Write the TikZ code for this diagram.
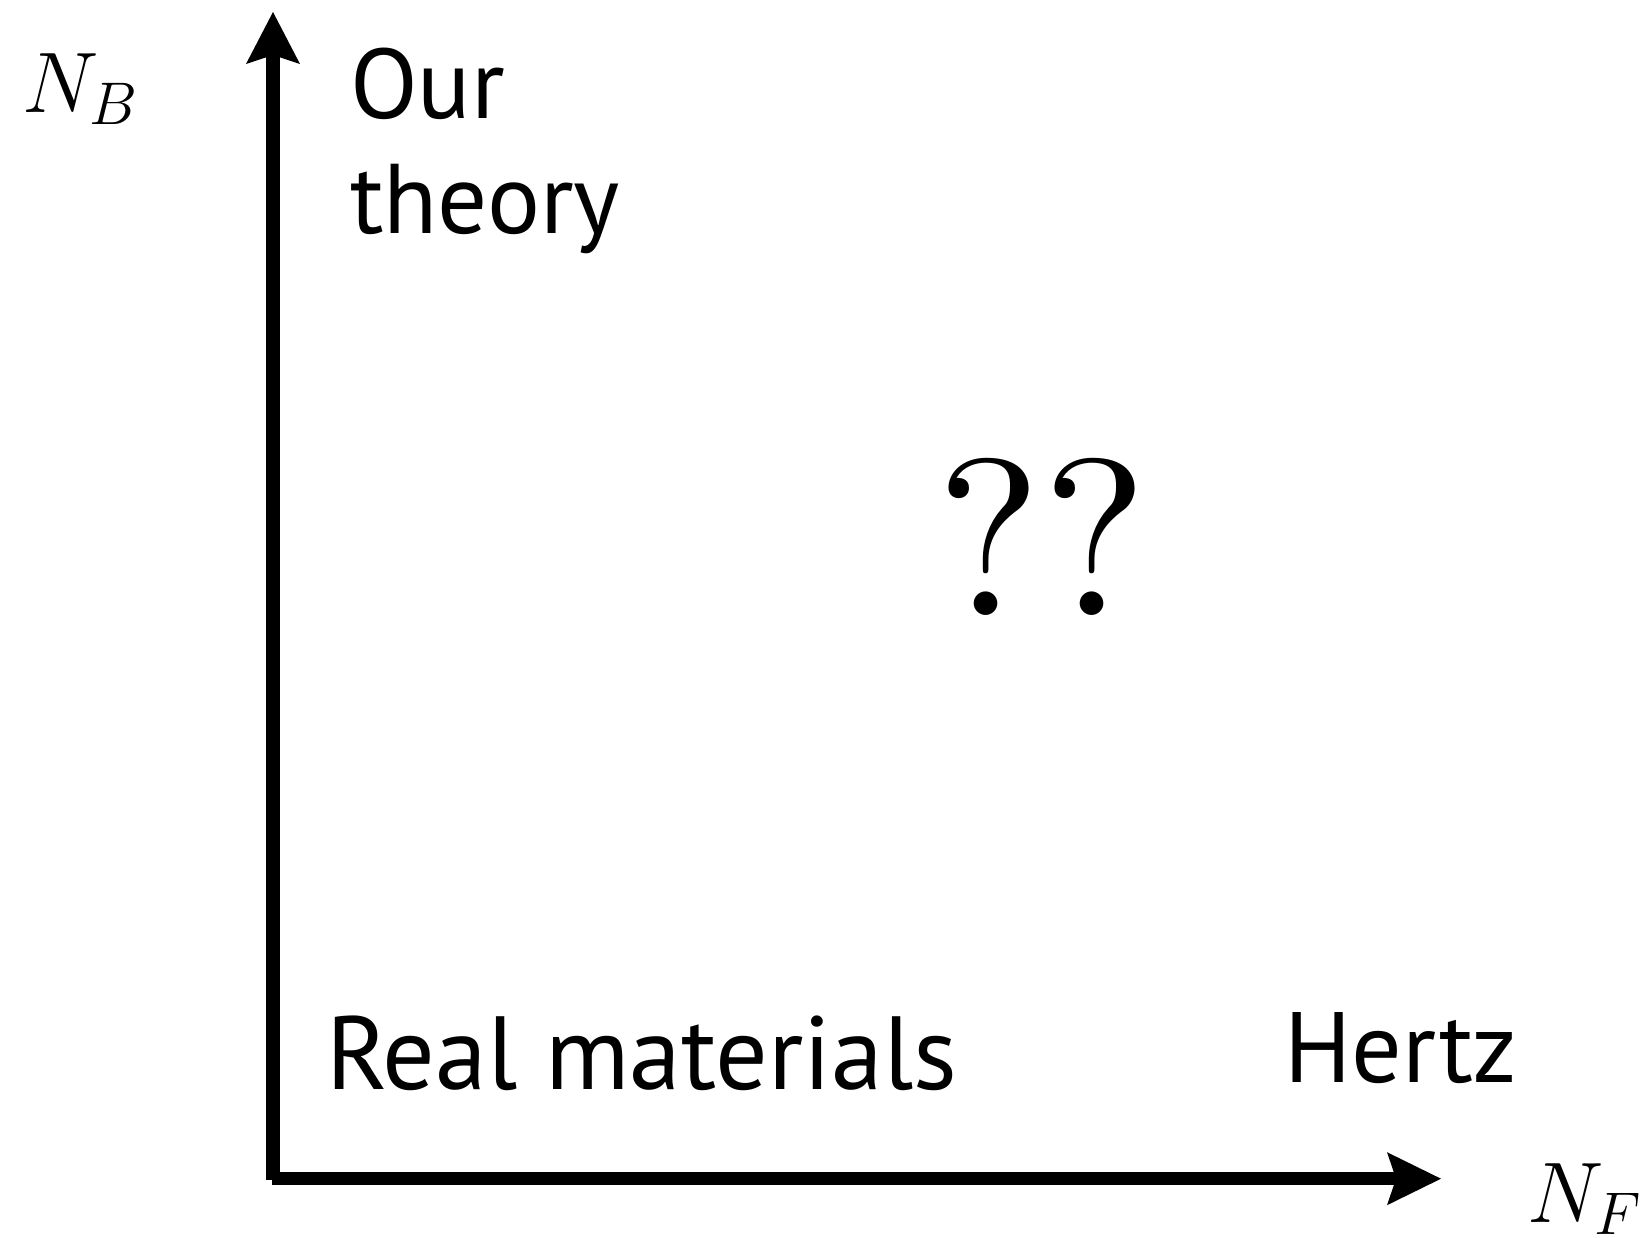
\documentclass[tikz,border=0pt]{standalone}
\usepackage{fix-cm}
\usepackage{fontspec}
\newfontfamily\gill{PT Sans}
\newfontfamily\lmten{lmroman10-regular}[Extension=.otf]
\usetikzlibrary{arrows.meta}
\tikzset{
  axis/.style={line width=13.5pt, line cap=butt},
  lbl/.style={inner sep=0pt, outer sep=0pt, anchor=base west},
}
\begin{document}
\begin{tikzpicture}[x=1pt,y=-1pt]
\useasboundingbox (0,0) rectangle (1648,1237);
\coordinate (vbot) at (273,1180);
\coordinate (vtip) at (273,12);
\coordinate (hleft) at (271.7,1178.7);
\coordinate (htip) at (1441,1178.7);
\draw[axis,-{Stealth[length=52pt,width=54pt,inset=9pt,line width=0pt]}] (vbot) -- (vtip);
\draw[axis,-{Stealth[length=54pt,width=53pt,inset=9pt,line width=0pt]}] (hleft) -- (htip);
\node[lbl] (nb) at (22,112) {\fontsize{86}{100}\selectfont$N_B$};
\node[lbl] (nf) at (1527,1222) {\fontsize{86}{100}\selectfont$N_F$};
\node[lbl] (our) at (350,118.5) {\gill\fontsize{99}{110}\selectfont Our};
\node[lbl] (theory) at (350,233) {\gill\fontsize{99}{110}\selectfont theory};
\node[lbl] (real) at (326,1089) {\gill\fontsize{104}{120}\selectfont Real materials};
\node[lbl] (hertz) at (1284,1082) {\gill\fontsize{100}{120}\selectfont Hertz};
\node[inner sep=0pt, anchor=base] (qq) at (1042,615) {\lmten\fontsize{223}{260}\selectfont ??};
\end{tikzpicture}
\end{document}
